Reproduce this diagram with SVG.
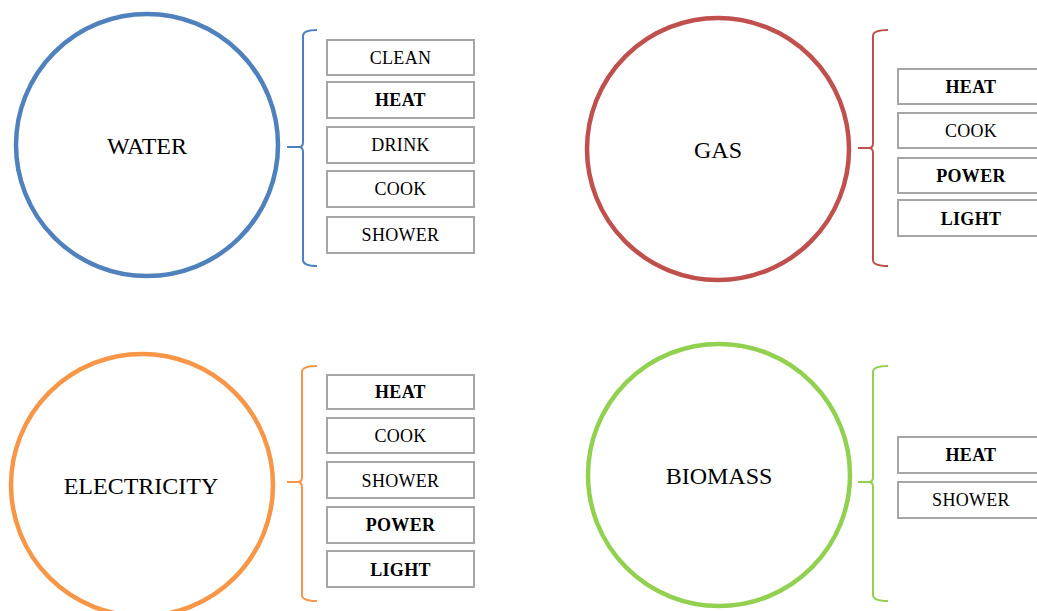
<svg xmlns="http://www.w3.org/2000/svg" width="1037" height="611" viewBox="0 0 1037 611">
<style>
.circ{fill:#fff;stroke-width:4.5}
.box{fill:#fff;stroke:#a6a6a6;stroke-width:2}
.brace{fill:none;stroke-width:2}
.lbl{font-family:"Liberation Serif","Times New Roman",serif;font-size:18px;letter-spacing:0.3px;fill:#000;text-anchor:middle}
.b{font-weight:bold}
.big{font-family:"Liberation Serif","Times New Roman",serif;font-size:24px;fill:#000;text-anchor:middle}
.blue{stroke:#4f81bd}.red{stroke:#c0504d}.orange{stroke:#f79646}.green{stroke:#92d050}
</style>
<rect width="1037" height="611" fill="#fff"/>
<g id="connectors">
<line class="brace blue" x1="287" y1="147" x2="301" y2="147"/>
<line class="brace red" x1="858" y1="148" x2="872" y2="148"/>
<line class="brace orange" x1="287" y1="482" x2="301" y2="482"/>
<line class="brace green" x1="858" y1="482" x2="872" y2="482"/>
</g>
<g id="water">
<circle class="circ blue" cx="147" cy="145" r="131"/>
<text class="big" x="147" y="154">WATER</text>
<path class="brace blue" d="M317,30 Q303,30 303,36 L303,142 Q303,147 299,147 Q303,147 303,152 L303,260 Q303,266 317,266"/>
<rect class="box" x="327" y="40" width="147" height="35"/><text class="lbl" x="400.5" y="64">CLEAN</text>
<rect class="box" x="327" y="82" width="147" height="36"/><text class="lbl b" x="400.5" y="106">HEAT</text>
<rect class="box" x="327" y="127" width="147" height="36"/><text class="lbl" x="400.5" y="151">DRINK</text>
<rect class="box" x="327" y="171" width="147" height="36"/><text class="lbl" x="400.5" y="195">COOK</text>
<rect class="box" x="327" y="217" width="147" height="36"/><text class="lbl" x="400.5" y="241">SHOWER</text>
</g>
<g id="gas">
<circle class="circ red" cx="718" cy="149" r="131"/>
<text class="big" x="718" y="158">GAS</text>
<path class="brace red" d="M888,30 Q873,30 873,36 L873,143 Q873,148 869,148 Q873,148 873,153 L873,260 Q873,266 888,266"/>
<rect class="box" x="898" y="69" width="146" height="35"/><text class="lbl b" x="971" y="93">HEAT</text>
<rect class="box" x="898" y="113" width="146" height="35"/><text class="lbl" x="971" y="137">COOK</text>
<rect class="box" x="898" y="158" width="146" height="35"/><text class="lbl b" x="971" y="182">POWER</text>
<rect class="box" x="898" y="200" width="146" height="36"/><text class="lbl b" x="971" y="225">LIGHT</text>
</g>
<g id="electricity">
<circle class="circ orange" cx="142" cy="485" r="131"/>
<text class="big" x="141" y="494">ELECTRICITY</text>
<path class="brace orange" d="M317,366 Q302,366 302,372 L302,477 Q302,482 298,482 Q302,482 302,487 L302,595 Q302,601 317,601"/>
<rect class="box" x="327" y="375" width="147" height="34"/><text class="lbl b" x="400.5" y="398">HEAT</text>
<rect class="box" x="327" y="418" width="147" height="35"/><text class="lbl" x="400.5" y="442">COOK</text>
<rect class="box" x="327" y="462" width="147" height="36"/><text class="lbl" x="400.5" y="487">SHOWER</text>
<rect class="box" x="327" y="507" width="147" height="36"/><text class="lbl b" x="400.5" y="531">POWER</text>
<rect class="box" x="327" y="551" width="147" height="36"/><text class="lbl b" x="400.5" y="576">LIGHT</text>
</g>
<g id="biomass">
<circle class="circ green" cx="719" cy="475" r="131"/>
<text class="big" x="719" y="484">BIOMASS</text>
<path class="brace green" d="M888,366 Q873,366 873,372 L873,477 Q873,482 869,482 Q873,482 873,487 L873,595 Q873,601 888,601"/>
<rect class="box" x="898" y="437" width="146" height="36"/><text class="lbl b" x="971" y="461">HEAT</text>
<rect class="box" x="898" y="482" width="146" height="36"/><text class="lbl" x="971" y="506">SHOWER</text>
</g>
</svg>
